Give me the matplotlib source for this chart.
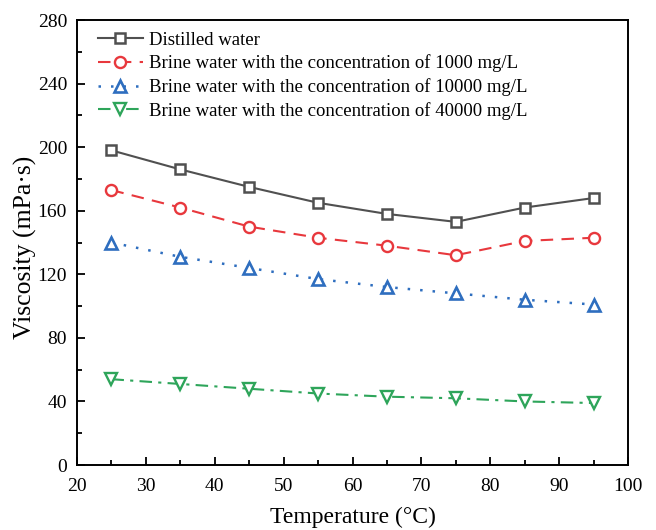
import numpy as np
import matplotlib
matplotlib.use("Agg")
import matplotlib.pyplot as plt
from matplotlib.ticker import MultipleLocator

plt.rcParams['font.family'] = ['Liberation Serif', 'DejaVu Serif']

# data
temperature = [25, 35, 45, 55, 65, 75, 85, 95]
distilled = [198, 186, 175, 165, 158, 153, 162, 168]
brine_1000 = [173, 162, 150, 143, 138, 132, 141, 143]
brine_10000 = [140, 131, 124, 117, 112, 108, 104, 101]
brine_40000 = [54, 51, 48, 45, 43, 42, 40, 39]

fig = plt.figure(figsize=(6.56, 5.30), dpi=100)
ax = fig.add_axes([0.1174, 0.1226, 0.8399, 0.8396])

ax.plot(temperature, distilled, color='#505050', linestyle='-', lw=1.5,
        marker='s', ms=6.5, mfc='white', mec='#505050', mew=1.8,
        label='Distilled water')
ax.plot(temperature, brine_1000, color='#e8383d', linestyle=(0, (6, 4)), lw=1.5,
        marker='o', ms=8, mfc='white', mec='#e8383d', mew=1.7,
        label='Brine water with the concentration of 1000 mg/L')
ax.plot(temperature, brine_10000, color='#2e6ebf', linestyle=(0, (1, 4)), lw=1.8,
        marker='^', ms=8.5, mfc='white', mec='#2e6ebf', mew=1.9,
        label='Brine water with the concentration of 10000 mg/L')
ax.plot(temperature, brine_40000, color='#2ea55a', linestyle=(0, (6, 3, 1.5, 3)), lw=1.5,
        marker='v', ms=8.5, mfc='white', mec='#2ea55a', mew=1.7,
        label='Brine water with the concentration of 40000 mg/L')

ax.set_xlim(20, 100)
ax.set_ylim(0, 280)
ax.xaxis.set_major_locator(MultipleLocator(10))
ax.xaxis.set_minor_locator(MultipleLocator(5))
ax.yaxis.set_major_locator(MultipleLocator(40))
ax.yaxis.set_minor_locator(MultipleLocator(20))
ax.tick_params(which='both', direction='in', labelsize=14, width=1.3)
ax.tick_params(which='major', length=6)
ax.tick_params(which='minor', length=3.5)
ax.tick_params(axis='x', pad=9.5)
ax.tick_params(axis='y', pad=7.2)
for s in ax.spines.values():
    s.set_linewidth(1.4)

ax.set_xlabel('Temperature (°C)', fontsize=17, labelpad=8.5)
ax.set_ylabel('Viscosity (mPa·s)', fontsize=18.5)
ax.yaxis.set_label_coords(-0.072, 0.49)

ax.legend(loc='upper left', frameon=False, fontsize=13.5, handlelength=2.4,
          borderaxespad=0, borderpad=0, labelspacing=0.31, handletextpad=0.3,
          bbox_to_anchor=(0.038, 0.974))

fig.savefig('out.png', dpi=100)
